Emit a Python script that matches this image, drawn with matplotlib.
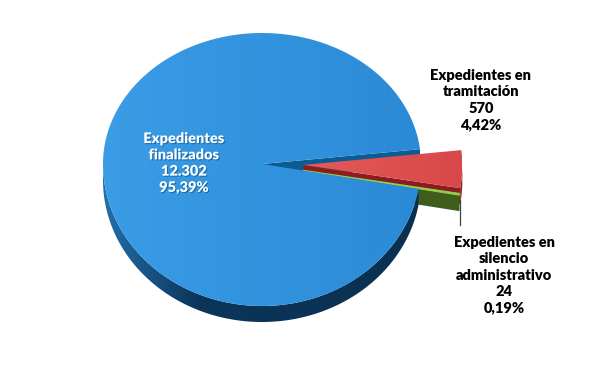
import numpy as np
import matplotlib.pyplot as plt
from matplotlib.patches import Polygon
from matplotlib.colors import LinearSegmentedColormap
import matplotlib.patheffects as pe

categories = ['Expedientes\nfinalizados', 'Expedientes en\ntramitación',
              'Expedientes en\nsilencio\nadministrativo']
values = [12302, 570, 24]
value_labels = ['12.302', '570', '24']
pct_labels = ['95,39%', '4,42%', '0,19%']

explode = [0.0, 0.26, 0.26]
top_colors = ['#3497E0', '#DF5252', '#92D050']
side_colors = ['#0B3A5E', '#8E2222', '#3F5E1D']
face_colors = ['#0B5C94', '#8A1E1E', '#3F5E1D']

fig = plt.figure(figsize=(6, 3.67), dpi=100)
ax = fig.add_axes([0, 0, 1, 1])
ax.set_xlim(0, 600)
ax.set_ylim(367, 0)
ax.axis('off')

cx, cy = 262, 164
a, b_top, b_bot, depth = 159, 131, 142, 16
start = np.deg2rad(6.5)


def pts(th, c):
    th = np.atleast_1d(th)
    s = np.sin(th)
    b = np.where(s > 0, b_top, b_bot)
    return np.column_stack([c[0] + a * np.cos(th), c[1] - b * s])


total = float(sum(values))
spans = [2 * np.pi * v / total for v in values]
order = [1, 2, 0]  # clockwise from start
bounds = {}
cur = start
for i in order:
    hi = cur
    lo = cur - spans[i]
    bounds[i] = (lo, hi)
    cur = lo

centers = {}
for i in range(3):
    lo, hi = bounds[i]
    m = 0.5 * (lo + hi)
    e = explode[i]
    s = np.sin(m)
    bb = b_top if s > 0 else b_bot
    centers[i] = (cx + e * a * np.cos(m), cy - e * bb * s)


def top_poly(i):
    lo, hi = bounds[i]
    th = np.linspace(lo, hi, 400)
    return np.vstack([[centers[i]], pts(th, centers[i])])


def side_polys(i):
    lo, hi = bounds[i]
    out = []
    for k in (-2, -1, 0, 1):
        a0 = -np.pi + 2 * np.pi * k
        a1 = 0 + 2 * np.pi * k
        l, h = max(lo, a0), min(hi, a1)
        if h > l:
            th = np.linspace(l, h, 300)
            p = pts(th, centers[i])
            q = p[::-1].copy()
            q[:, 1] += depth
            out.append(np.vstack([p, q]))
    return out


def face_polys(i):
    lo, hi = bounds[i]
    c = np.array(centers[i])
    out = []
    for ang, vis in ((lo, np.cos(lo) > 0), (hi, np.cos(hi) < 0)):
        if vis:
            p = pts(ang, c)[0]
            out.append(np.array([c, p, p + [0, depth], c + [0, depth]]))
    return out


def grad_fill(poly, colors, x0, x1, z):
    patch = Polygon(poly, closed=True, facecolor='none', edgecolor='none')
    ax.add_patch(patch)
    cmap = LinearSegmentedColormap.from_list('g', colors)
    g = np.linspace(0, 1, 256).reshape(1, -1)
    ymin, ymax = poly[:, 1].min() - 2, poly[:, 1].max() + 2
    im = ax.imshow(g, cmap=cmap, extent=[x0, x1, ymax, ymin], aspect='auto',
                   zorder=z, interpolation='bilinear')
    im.set_clip_path(patch)


# blue radial face (back)
for f in face_polys(0):
    ax.add_patch(Polygon(f, closed=True, facecolor=face_colors[0], edgecolor='none', zorder=1))

# red and green slices
z = 2
for i in (1, 2):
    for f in face_polys(i):
        ax.add_patch(Polygon(f, closed=True, facecolor=face_colors[i], edgecolor='none', zorder=z))
    for s in side_polys(i):
        ax.add_patch(Polygon(s, closed=True, facecolor=side_colors[i], edgecolor='none', zorder=z))
    tp = top_poly(i)
    if i == 1:
        grad_fill(tp, ['#E35A5A', '#D94848'], tp[:, 0].min(), tp[:, 0].max(), z + 0.5)
    else:
        ax.add_patch(Polygon(tp, closed=True, facecolor=top_colors[i],
                             edgecolor=top_colors[i], lw=0.8, zorder=z + 0.5))
    z += 1

# blue side + top
for s in side_polys(0):
    grad_fill(s, [(0.0, '#2470AE'), (0.3, '#0A365A'), (1.0, '#0A3050')], 100, 425, 5)
tp = top_poly(0)
grad_fill(tp, ['#3A9DE6', '#2B8AD6'], 100, 420, 6)

# labels
fs = 10.5
lsp = 1.3
ax.text(184, 163, f"{categories[0]}\n{value_labels[0]}\n{pct_labels[0]}",
        ha='center', va='center', fontsize=fs, fontweight='heavy', color='white',
        family='Lato', linespacing=lsp, zorder=10,
        path_effects=[pe.withSimplePatchShadow(offset=(0.8, -0.8), shadow_rgbFace='#0A4F85', alpha=0.6)])
ax.text(481, 100, f"{categories[1]}\n{value_labels[1]}\n{pct_labels[1]}",
        ha='center', va='center', fontsize=fs, fontweight='heavy', color='black',
        family='Lato', linespacing=lsp, zorder=10)
ax.text(504, 275, f"{categories[2]}\n{value_labels[2]}\n{pct_labels[2]}",
        ha='center', va='center', fontsize=fs, fontweight='heavy', color='black',
        family='Lato', linespacing=lsp, zorder=10)

# leader line for small slice
gp = pts(bounds[2][0], centers[2])[0]
ax.plot([gp[0] + 1, gp[0] + 1], [gp[1] + 5, 225], color='#404040', lw=0.9, zorder=9)

fig.savefig('out.png', dpi=100)
